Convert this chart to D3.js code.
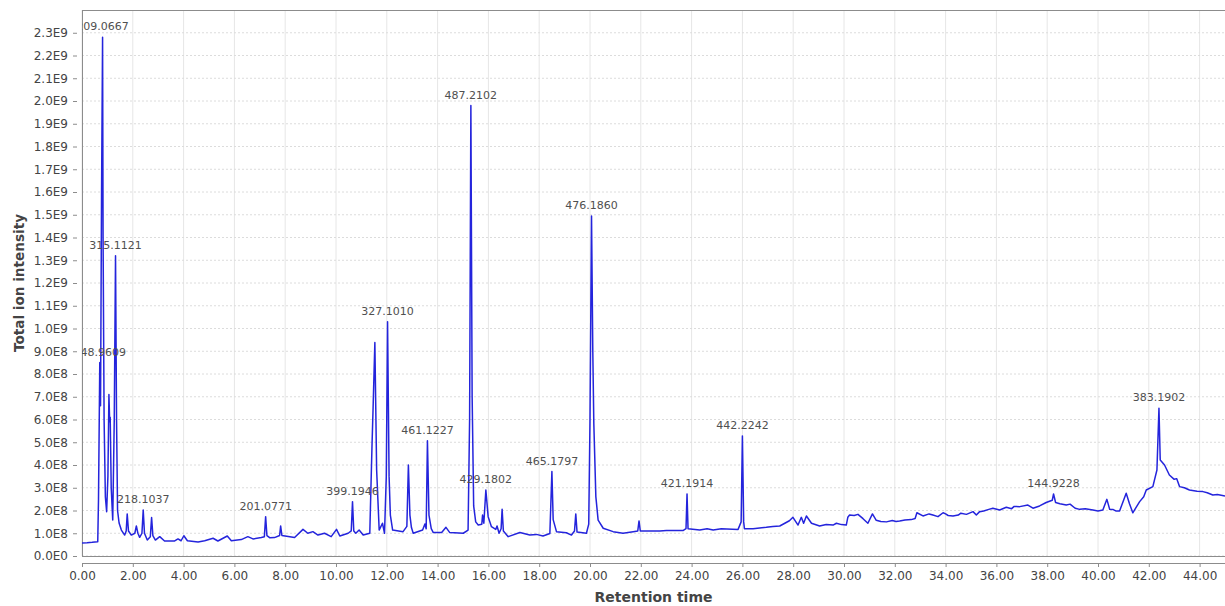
<!DOCTYPE html>
<html>
<head>
<meta charset="utf-8">
<script src="https://cdn.jsdelivr.net/npm/d3@7"></script>
<style>
body { margin: 0; background: #fff; }
svg { display: block; font-family: "DejaVu Sans", sans-serif; }
</style>
</head>
<body>
<svg id="chart"></svg>
<script>
// retention time (min)
var times = [0.00, 0.20, 0.40, 0.62, 0.65, 0.70, 0.73, 0.77, 0.81, 0.83, 0.87, 0.92, 0.97,
  1.02, 1.06, 1.09, 1.11, 1.15, 1.21, 1.27, 1.32, 1.36, 1.40, 1.46, 1.55, 1.68, 1.74, 1.78,
  1.83, 1.94, 2.08, 2.14, 2.20, 2.27, 2.36, 2.41, 2.46, 2.57, 2.69, 2.74, 2.79, 2.89, 3.06,
  3.25, 3.65, 3.78, 3.90, 4.01, 4.15, 4.57, 4.83, 5.16, 5.35, 5.72, 5.88, 6.27, 6.53, 6.73,
  7.06, 7.18, 7.23, 7.28, 7.40, 7.58, 7.78, 7.82, 7.87, 8.37, 8.70, 8.89, 9.09, 9.29, 9.55,
  9.81, 10.02, 10.15, 10.48, 10.60, 10.65, 10.70, 10.78, 10.91, 11.07, 11.33, 11.42, 11.46,
  11.53, 11.60, 11.70, 11.83, 11.91, 11.98, 12.03, 12.09, 12.14, 12.23, 12.64, 12.79, 12.85,
  12.91, 12.97, 13.04, 13.41, 13.50, 13.55, 13.60, 13.66, 13.75, 13.83, 14.16, 14.33, 14.48,
  15.01, 15.20, 15.26, 15.31, 15.36, 15.42, 15.50, 15.60, 15.74, 15.77, 15.82, 15.90, 15.99,
  16.12, 16.29, 16.34, 16.42, 16.50, 16.54, 16.59, 16.78, 17.24, 17.63, 17.89, 18.15, 18.42,
  18.50, 18.55, 18.68, 19.07, 19.27, 19.39, 19.44, 19.49, 19.86, 19.95, 20.00, 20.06, 20.11,
  20.15, 20.23, 20.32, 20.52, 20.91, 21.30, 21.70, 21.88, 21.93, 21.98, 22.75, 23.01, 23.66,
  23.78, 23.82, 23.86, 24.32, 24.61, 24.85, 25.17, 25.83, 25.95, 26.00, 26.05, 26.08, 26.42,
  26.94, 27.20, 27.47, 27.67, 27.85, 27.99, 28.19, 28.32, 28.41, 28.52,
  28.72, 29.04, 29.30, 29.57, 29.70, 29.90, 30.09, 30.15, 30.22, 30.40,
  30.55, 30.75, 30.94, 31.12, 31.27, 31.45, 31.67, 31.90, 32.05, 32.19,
  32.40, 32.65, 32.80, 32.87, 33.11, 33.35, 33.50, 33.70, 33.90, 34.00,
  34.10, 34.29, 34.50, 34.60, 34.82, 35.08, 35.21, 35.34, 35.50, 35.70,
  35.86, 36.13, 36.39, 36.60, 36.70, 36.92, 37.24, 37.44, 37.70, 37.96,
  38.20, 38.25, 38.33, 38.50, 38.75, 38.90, 39.10, 39.28, 39.50, 39.80,
  40.00, 40.19, 40.35, 40.46, 40.60, 40.70, 40.85, 41.11, 41.24, 41.37,
  41.64, 41.80, 41.90, 42.16, 42.32, 42.40, 42.45, 42.62, 42.81, 43.00,
  43.10, 43.21, 43.40, 43.60, 43.90, 44.13, 44.30, 44.52, 44.70, 45.00]

// total ion intensity, in units of 1E8
var tic = [0.57, 0.58, 0.60, 0.63, 2.5, 8.5, 6.6, 16, 22.8, 14, 6, 2.6, 1.95,
  3.5, 7.1, 5.9, 6.1, 3.0, 1.58, 6, 13.2, 6, 2.0, 1.45, 1.14, 0.92, 1.1, 1.85,
  1.1, 0.92, 1.0, 1.32, 1.0, 0.82, 1.0, 2.02, 1.0, 0.70, 0.85, 1.69, 0.9, 0.70, 0.85,
  0.66, 0.66, 0.75, 0.67, 0.89, 0.67, 0.62, 0.67, 0.78, 0.66, 0.88, 0.67, 0.72, 0.85, 0.75,
  0.81, 0.85, 1.73, 0.9, 0.8, 0.81, 0.9, 1.32, 0.9, 0.81, 1.17, 1.0, 1.07, 0.92, 1.0,
  0.85, 1.17, 0.88, 1.0, 1.1, 2.39, 1.1, 1.0, 1.14, 0.92, 1.0, 4.96, 6.49,
  9.38, 3.78, 1.14, 1.44, 1.0, 3.5, 10.3, 3.5, 1.8, 1.14, 1.07, 1.3, 4.0,
  1.8, 1.25, 1.0, 1.14, 1.41, 1.2, 5.07, 1.8, 1.2, 1.03, 1.03, 1.26, 1.03,
  1.0, 1.14, 6, 19.8, 7, 2.2, 1.5, 1.36, 1.4, 1.8, 1.44, 2.9, 1.73,
  1.29, 1.17, 1.32, 1.0, 1.2, 2.05, 1.1, 0.85, 1.03, 0.92, 0.95, 0.88, 0.99,
  3.71, 1.6, 1.07, 1.02, 0.92, 1.1, 1.85, 1.05, 1.0, 1.4, 6, 14.95, 9,
  5.84, 2.61, 1.58, 1.22, 1.07, 1.0, 1.07, 1.1, 1.54, 1.1, 1.1, 1.12, 1.12,
  1.2, 2.73, 1.2, 1.14, 1.2, 1.14, 1.2, 1.17, 1.5, 5.28, 1.5, 1.2, 1.2,
  1.26, 1.30, 1.32, 1.44, 1.55, 1.70, 1.36, 1.70, 1.44, 1.76,
  1.44, 1.32, 1.38, 1.36, 1.44, 1.38, 1.36, 1.70, 1.80, 1.78,
  1.83, 1.64, 1.44, 1.85, 1.57, 1.52, 1.50, 1.56, 1.52, 1.54,
  1.58, 1.60, 1.65, 1.90, 1.76, 1.85, 1.80, 1.73, 1.90, 1.85,
  1.78, 1.76, 1.80, 1.88, 1.83, 1.95, 1.80, 1.95, 1.98, 2.05,
  2.10, 2.02, 2.14, 2.08, 2.18, 2.17, 2.24, 2.10, 2.20, 2.35,
  2.45, 2.73, 2.35, 2.30, 2.24, 2.28, 2.10, 2.05, 2.08, 2.02,
  1.98, 2.02, 2.49, 2.05, 2.04, 1.98, 1.98, 2.76, 2.30, 1.90,
  2.39, 2.60, 2.90, 3.05, 3.78, 6.49, 4.22, 4.00, 3.56, 3.37,
  3.40, 3.05, 3.00, 2.90, 2.85, 2.83, 2.78, 2.68, 2.70, 2.64]

// annotated peaks (m/z) and their retention times
var peakTimes = [0.70, 0.81, 1.32, 2.41, 7.23, 10.65, 12.03, 13.60, 15.31, 15.90, 18.50,
  20.06, 23.82, 26.00, 38.25, 42.40]
var peakLabels = ["148.9609", "209.0667", "315.1121", "218.1037", "201.0771", "399.1946",
  "327.1010", "461.1227", "487.2102", "429.1802", "465.1797", "476.1860", "421.1914",
  "442.2242", "144.9228", "383.1902"]

var xTicks = d3.range(0, 45, 2)
var yTicks = d3.range(0, 24).map(function(d){ return d * 1e8 })

var screen = { width: 1225, height: 606 }
var plot = { left: 82, top: 10, right: 1225, bottom: 556 }

var svg = d3.select("#chart")
  .attr("width", screen.width)
  .attr("height", screen.height)

var xScale = d3.scaleLinear()
  .domain([0, 45])
  .range([plot.left, plot.right])

var yScale = d3.scaleLinear()
  .domain([0, 2.4e9])
  .range([plot.bottom, plot.top])

var sciFormat = function(v){
  if (v == 0) return "0.0E0"
  var e = Math.floor(Math.log10(v) + 1e-9)
  return (v / Math.pow(10, e)).toFixed(1) + "E" + e
}

svg.append("defs").append("clipPath")
  .attr("id", "plotClip")
  .append("rect")
  .attr("x", plot.left)
  .attr("y", plot.top)
  .attr("width", plot.right - plot.left)
  .attr("height", plot.bottom - plot.top)

// grid
svg.append("g").selectAll("line")
  .data(xTicks)
  .enter()
  .append("line")
  .attr("x1", function(d){ return xScale(d) })
  .attr("x2", function(d){ return xScale(d) })
  .attr("y1", plot.top)
  .attr("y2", plot.bottom)
  .attr("stroke", "#e6e6e6")
  .attr("stroke-width", 1)

svg.append("g").selectAll("line")
  .data(yTicks)
  .enter()
  .append("line")
  .attr("x1", plot.left)
  .attr("x2", plot.right)
  .attr("y1", function(d){ return yScale(d) })
  .attr("y2", function(d){ return yScale(d) })
  .attr("stroke", "#dcdcdc")
  .attr("stroke-width", 1)
  .attr("stroke-dasharray", "2,2")

// frame
svg.append("rect")
  .attr("x", plot.left + 0.5)
  .attr("y", plot.top + 0.5)
  .attr("width", plot.right - plot.left + 2)
  .attr("height", plot.bottom - plot.top)
  .attr("fill", "none")
  .attr("stroke", "#8c8c8c")
  .attr("stroke-width", 1)

// trace
var points = times.map(function(t, i){ return [t, tic[i] * 1e8] })

var line = d3.line()
  .x(function(d){ return xScale(d[0]) })
  .y(function(d){ return yScale(d[1]) })

svg.append("path")
  .datum(points)
  .attr("clip-path", "url(#plotClip)")
  .attr("d", line)
  .attr("fill", "none")
  .attr("stroke", "#2424dc")
  .attr("stroke-width", 1.5)
  .attr("stroke-linejoin", "round")

// peak labels
svg.append("g")
  .attr("clip-path", "url(#plotClip)")
  .selectAll("text")
  .data(peakTimes)
  .enter()
  .append("text")
  .attr("x", function(d){ return xScale(d) })
  .attr("y", function(d){
    var i = times.indexOf(d)
    return yScale(tic[i] * 1e8) - 7
  })
  .attr("text-anchor", "middle")
  .attr("font-size", "11px")
  .attr("fill", "#505050")
  .text(function(d, i){ return peakLabels[i] })

// axes
var xAxis = d3.axisBottom(xScale)
  .tickValues(xTicks)
  .tickFormat(d3.format(".2f"))
  .tickSize(4)
  .tickSizeOuter(0)
  .tickPadding(4)

var gx = svg.append("g")
  .attr("transform", "translate(0," + (plot.bottom + 7) + ")")
  .call(xAxis)
gx.select(".domain").attr("stroke", "#8c8c8c").attr("d", "M" + plot.left + ",0.5H" + plot.right)
gx.selectAll(".tick line").attr("stroke", "#8c8c8c")
gx.selectAll("text").attr("font-size", "12px").attr("fill", "#444").attr("font-family", "DejaVu Sans")

var yAxis = d3.axisLeft(yScale)
  .tickValues(yTicks)
  .tickFormat(sciFormat)
  .tickSize(4)
  .tickSizeOuter(0)
  .tickPadding(5)

var gy = svg.append("g")
  .attr("transform", "translate(" + (plot.left - 5) + ",0)")
  .call(yAxis)
gy.select(".domain").remove()
gy.selectAll(".tick line").attr("stroke", "#8c8c8c")
gy.selectAll("text").attr("font-size", "12px").attr("fill", "#444").attr("font-family", "DejaVu Sans")

svg.append("text")
  .attr("x", (plot.left + plot.right) / 2)
  .attr("y", 602)
  .attr("text-anchor", "middle")
  .attr("font-size", "14px")
  .attr("font-weight", "bold")
  .attr("fill", "#444")
  .text("Retention time")

svg.append("text")
  .attr("transform", "translate(24,283) rotate(-90)")
  .attr("text-anchor", "middle")
  .attr("font-size", "13.6px")
  .attr("font-weight", "bold")
  .attr("fill", "#444")
  .text("Total ion intensity")
</script>
</body>
</html>
